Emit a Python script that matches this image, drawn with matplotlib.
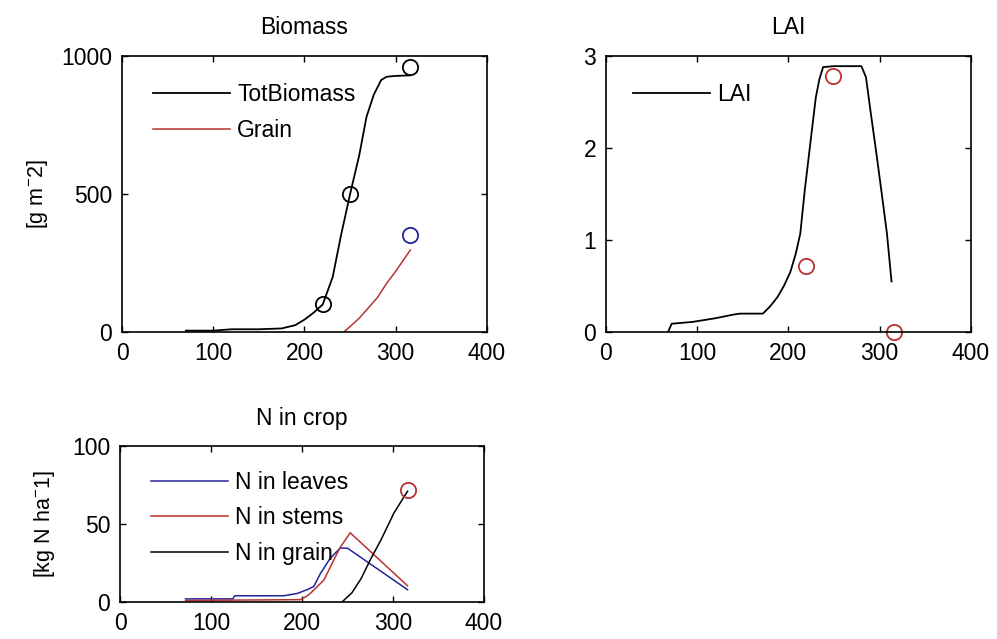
import numpy as np
import matplotlib
matplotlib.use('Agg')
import matplotlib.pyplot as plt

plt.rcParams['font.family'] = ['Liberation Sans', 'DejaVu Sans']
plt.rcParams['mathtext.fontset'] = 'custom'
plt.rcParams['mathtext.rm'] = 'Liberation Sans'
plt.rcParams['mathtext.default'] = 'regular'

# ---- Biomass (simulated + observed) ----
bio_days = [70, 100, 120, 150, 175, 190, 200, 210, 220, 231, 240, 250, 260, 268, 276, 284, 290, 300, 316]
tot_biomass = [5, 5, 10, 10, 13, 25, 45, 70, 100, 200, 350, 500, 640, 780, 860, 913, 925, 928, 930]
grain_days = [243, 250, 260, 268, 280, 290, 300, 316]
grain = [0, 20, 50, 80, 125, 176, 220, 297]
obs_bio_days = [220, 250, 316]
obs_bio = [100, 500, 960]
obs_grain_days = [316]
obs_grain = [350]

# ---- LAI ----
lai_days = [68, 72, 95, 120, 140, 147, 172, 180, 188, 195, 202, 208, 213, 218, 224,
            230, 234, 238, 250, 280, 285, 290, 297, 303, 308, 313]
lai = [0, 0.09, 0.11, 0.15, 0.19, 0.2, 0.2, 0.28, 0.38, 0.5, 0.65, 0.85, 1.07, 1.55, 2.05,
       2.55, 2.75, 2.88, 2.89, 2.89, 2.77, 2.4, 1.9, 1.45, 1.07, 0.55]
obs_lai_days = [219, 249, 316]
obs_lai = [0.72, 2.78, 0.0]

# ---- N in crop ----
nleaf_days = [72, 124, 126, 180, 195, 206, 213, 220, 231, 242, 250, 316]
n_leaves = [2, 2, 4, 4, 5.5, 8, 10, 18, 28, 34.6, 34.5, 7.9]
nstem_days = [72, 198, 205, 210, 217, 224, 235, 242, 253, 316]
n_stems = [1, 1.5, 3.6, 6, 10, 14, 27, 35, 44.4, 10.4]
ngrain_days = [244, 255, 265, 275, 287, 301, 316]
n_grain = [0, 6, 15, 27, 40, 57, 71]
obs_ngrain_days = [316]
obs_ngrain = [72]

RED = '#b83232'
BLUE = '#24249a'
FS = 16.5

fig = plt.figure(figsize=(9.97, 6.39), dpi=100)
ax1 = fig.add_axes([0.1224, 0.4804, 0.366, 0.4319])
ax2 = fig.add_axes([0.6078, 0.4804, 0.366, 0.4319])
ax3 = fig.add_axes([0.1204, 0.0579, 0.365, 0.2441])


def style(ax, yticks):
    ax.set_xlim(0, 400)
    ax.set_xticks([0, 100, 200, 300, 400])
    ax.set_ylim(yticks[0], yticks[-1])
    ax.set_yticks(yticks)
    ax.tick_params(direction='in', top=True, right=True, length=4, width=1,
                   labelsize=FS, pad=7)
    for s in ax.spines.values():
        s.set_linewidth(1.2)


def legend(ax, anchor):
    ax.legend(loc='upper left', bbox_to_anchor=anchor, frameon=False,
              fontsize=FS, handlelength=3.35, handletextpad=0.3,
              labelspacing=0.55, borderaxespad=0)


# Biomass
ax1.plot(bio_days, tot_biomass, color='black', lw=1.3, label='TotBiomass')
ax1.plot(grain_days, grain, color=RED, lw=1.1, label='Grain')
ax1.plot(obs_bio_days, obs_bio, 'o', mfc='none', mec='black', ms=11, mew=1.3)
ax1.plot(obs_grain_days, obs_grain, 'o', mfc='none', mec=BLUE, ms=11, mew=1.3)
style(ax1, [0, 500, 1000])
ax1.set_title('Biomass', fontsize=FS, pad=16)
ax1.set_ylabel('[g m$^{-}$2]', fontsize=FS - 1, labelpad=8)
legend(ax1, (0.061, 0.934))

# LAI
ax2.plot(lai_days, lai, color='black', lw=1.3, label='LAI')
ax2.plot(obs_lai_days, obs_lai, 'o', mfc='none', mec=RED, ms=11, mew=1.3, clip_on=False)
style(ax2, [0, 1, 2, 3])
ax2.set_title('LAI', fontsize=FS, pad=16)
legend(ax2, (0.05, 0.934))

# N in crop
ax3.plot(nleaf_days, n_leaves, color=BLUE, lw=1.1, label='N in leaves')
ax3.plot(nstem_days, n_stems, color=RED, lw=1.1, label='N in stems')
ax3.plot(ngrain_days, n_grain, color='black', lw=1.1, label='N in grain')
ax3.plot(obs_ngrain_days, obs_ngrain, 'o', mfc='none', mec=RED, ms=11, mew=1.3)
style(ax3, [0, 50, 100])
ax3.set_title('N in crop', fontsize=FS, pad=15)
ax3.set_ylabel('[kg N ha$^{-}$1]', fontsize=FS - 1, labelpad=11)
legend(ax3, (0.06, 0.9))

fig.savefig('out.png', dpi=100)
